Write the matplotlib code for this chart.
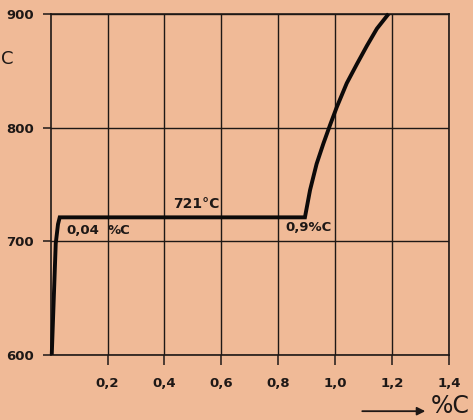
import numpy as np
import matplotlib.pyplot as plt

# carbon content (%C) vs temperature (deg C)
carbon = [0.004, 0.018, 0.026, 0.032, 0.894, 0.912, 0.935, 0.959, 0.982,
          1.006, 1.041, 1.077, 1.112, 1.147, 1.188]
temp = [600, 698, 715, 721, 721, 745, 768, 786, 802,
        818, 839, 856, 872, 887, 900]

x_ticks = [0.2, 0.4, 0.6, 0.8, 1.0, 1.2, 1.4]
x_labels = ['0,2', '0,4', '0,6', '0,8', '1,0', '1,2', '1,4']
y_ticks = [600, 700, 800, 900]
y_labels = ['600', '700', '800', '900']

paper = '#f0ba97'
ink = '#1e1816'

fig = plt.figure(figsize=(4.73, 4.20), dpi=100, facecolor=paper)
ax = fig.add_axes([0.107, 0.155, 0.842, 0.812])
ax.set_facecolor(paper)

ax.set_xlim(0, 1.4)
ax.set_ylim(600, 900)
ax.set_xticks(x_ticks)
ax.set_xticklabels(x_labels, fontsize=9.5, fontweight='bold', color=ink)
ax.set_yticks(y_ticks)
ax.set_yticklabels(y_labels, fontsize=9.5, fontweight='bold', color=ink)
ax.tick_params(axis='x', length=7, width=1.1, color=ink, pad=9)
ax.tick_params(axis='y', length=6, width=1.1, color=ink, pad=6)
ax.grid(True, color=ink, linewidth=1.0)
for s in ax.spines.values():
    s.set_color(ink)
    s.set_linewidth(1.2)

ax.plot(carbon, temp, color='#0c0a0a', linewidth=2.8, solid_joinstyle='miter',
        solid_capstyle='butt', clip_on=False, zorder=3)

ax.text(0.43, 733, '721°C', fontsize=10, fontweight='bold', color=ink, va='center')
ax.text(0.055, 709, '0,04', fontsize=9.5, fontweight='bold', color=ink, va='center')
ax.text(0.2, 709, '%C', fontsize=9.5, fontweight='bold', color=ink, va='center')
ax.text(0.827, 712, '0,9%C', fontsize=9.5, fontweight='bold', color=ink, va='center')

# axis captions at the figure edges
ax.annotate('', xy=(0.905, 0.021), xytext=(0.76, 0.021), xycoords='figure fraction',
            arrowprops=dict(arrowstyle='-|>', color=ink, lw=1.3, mutation_scale=12))
fig.text(0.91, 0.005, '%C', fontsize=17, color=ink, ha='left', va='bottom')
fig.text(0.002, 0.86, 'C', fontsize=13, color=ink, ha='left', va='center')

fig.savefig('out.png', dpi=100, facecolor=paper)
